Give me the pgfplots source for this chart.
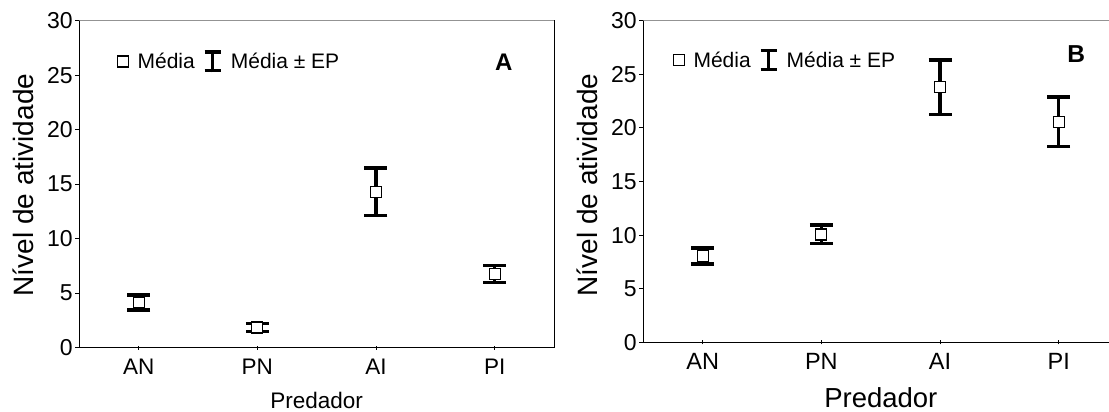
\documentclass[border=0pt]{standalone}
\usepackage{fontspec}
\setmainfont{Liberation Sans}
\usepackage{pgfplots}
\pgfplotsset{compat=1.18}

\newcommand{\fs}[1]{\fontsize{#1}{#1}\selectfont}

\pgfplotsset{
  painel/.style={
    scale only axis, anchor=south west,
    xmin=-0.5, ymin=0, ymax=30,
    xtick={0,1,2,3}, xticklabels={AN,PN,AI,PI},
    ytick={0,5,...,30},
    xtick pos=left, ytick pos=left,
    tick align=inside, major tick length=4pt,
    tick style={black, line width=0.8pt},
    ytick style={xshift=-4pt},
    xtick style={yshift=-2pt},
    axis line style={black, line width=0.9pt},
    /pgf/number format/assume math mode=true,
    yticklabel style={font=\fs{23}, anchor=east, inner sep=0pt, xshift=-6.5pt},
    xticklabel style={anchor=north, inner sep=0pt, yshift=-10.7pt},
    every axis y label/.style={rotate=90, anchor=center, font=\fs{28}},
    every axis x label/.style={anchor=center},
    legend style={draw=none, fill=none, inner sep=0pt, outer sep=0pt,
      anchor=west, font=\fs{21},
      cells={anchor=base west}, nodes={inner sep=0pt},
      /tikz/every odd column/.append style={column sep=8.5pt},
      /tikz/every even column/.append style={column sep=8.3pt}},
    legend columns=2,
  },
  media/.style={
    only marks, black, mark=square*,
    mark options={fill=white, draw=black, line width=1.1pt, mark size=5.5pt},
    error bars/.cd, y dir=both, y explicit,
    error bar style={line width=3.5pt, black},
    error mark options={rotate=90, line width=3.5pt, mark size=11.5pt, black},
  },
  imgmedia/.style={legend image code/.code={
    \draw[black, line width=1.1pt, fill=white] (0pt,1.5pt) rectangle (11pt,12.5pt);}},
  imgep/.style={legend image code/.code={
    \draw[black, line width=3.2pt] (8pt,-4pt) -- (8pt,18pt);
    \draw[black, line width=3.2pt] (0pt,-2.4pt) -- (16pt,-2.4pt);
    \draw[black, line width=3.2pt] (0pt,16.4pt) -- (16pt,16.4pt);}},
}

\begin{document}
\begin{tikzpicture}
\useasboundingbox (0pt,0pt) rectangle (1109pt,412pt);

% painel A
\begin{axis}[painel,
  at={(79.3pt,64.3pt)}, width=474.7pt, height=327pt,
  xmax=3.5,
  xticklabel style={font=\fs{22.5}},
  ylabel={Nível de atividade},
  ylabel style={at={(axis description cs:-0.117,0.4976)}},
  xlabel={Predador},
  xlabel style={at={(axis description cs:0.5,-0.16)}, font=\fs{22.5}},
  legend style={at={(axis cs:-0.182,26.26)}},
]
  \addlegendimage{imgmedia}
  \addlegendentry{Média}
  \addlegendimage{imgep}
  \addlegendentry{Média ± EP}
  \addplot[media] coordinates {
    (0,4.15) +- (0,0.69)
    (1,1.85) +- (0,0.38)
    (2,14.31) +- (0,2.19)
    (3,6.74) +- (0,0.78)
  };
  \draw[gray!85, line width=1.6pt] (rel axis cs:0,1) -- (rel axis cs:1,1);
  \node[font=\bfseries\fs{24}] at (axis cs:3.077,26.17) {A};
\end{axis}

% painel B
\begin{axis}[painel,
  at={(643.4pt,69.7pt)}, width=465.6pt, height=321.6pt,
  xmax=3.424,
  axis x line*=box, axis y line*=left,
  xticklabel style={font=\fs{23.5}},
  ylabel={Nível de atividade},
  ylabel style={at={(axis description cs:-0.1205,0.489)}},
  xlabel={Predador},
  xlabel style={at={(axis description cs:0.51,-0.1726)}, font=\fs{27.5}},
  legend style={at={(axis cs:-0.251,26.33)}},
]
  \addlegendimage{imgmedia}
  \addlegendentry{Média}
  \addlegendimage{imgep}
  \addlegendentry{Média ± EP}
  \addplot[media] coordinates {
    (0,8.05) +- (0,0.75)
    (1,10.06) +- (0,0.86)
    (2,23.8) +- (0,2.53)
    (3,20.57) +- (0,2.29)
  };
  \draw[gray!85, line width=1.6pt] (rel axis cs:0,1) -- (rel axis cs:1,1);
  \node[font=\bfseries\fs{24.5}] at (axis cs:3.148,26.9) {B};
\end{axis}
\end{tikzpicture}
\end{document}
